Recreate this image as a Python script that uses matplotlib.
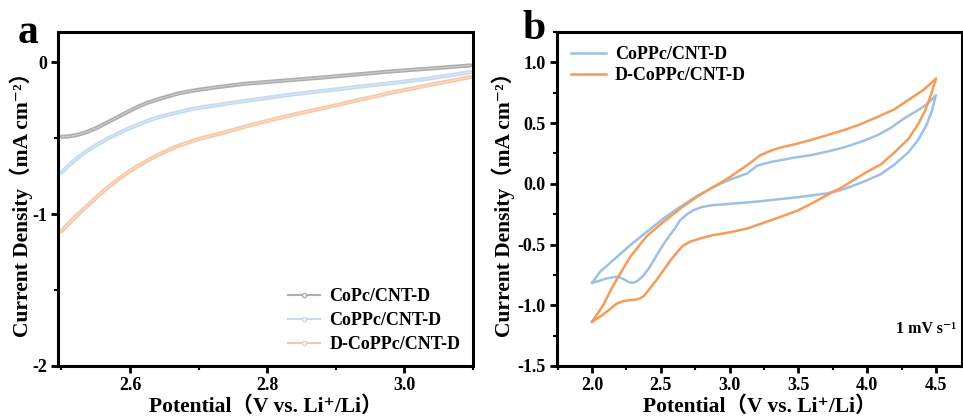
import matplotlib
matplotlib.use("Agg")
import matplotlib.pyplot as plt
from matplotlib.lines import Line2D
from matplotlib.ticker import MultipleLocator

plt.rcParams['font.family'] = ['Liberation Serif', 'DejaVu Serif', 'Noto Sans CJK SC']
plt.rcParams['font.weight'] = 'bold'
plt.rcParams['axes.unicode_minus'] = False

# (a) LSV curves
lsv_x = [2.500, 2.510, 2.524, 2.539, 2.553, 2.568, 2.583, 2.597, 2.612, 2.626, 2.641, 2.656, 2.670,
         2.685, 2.699, 2.719, 2.738, 2.767, 2.797, 2.838, 2.887, 2.936, 2.984, 3.033, 3.096]
copc = [-0.490, -0.488, -0.477, -0.455, -0.428, -0.393, -0.358, -0.325, -0.291, -0.265, -0.243, -0.223,
        -0.205, -0.192, -0.181, -0.168, -0.157, -0.141, -0.130, -0.115, -0.097, -0.077, -0.058, -0.042, -0.020]
coppc = [-0.726, -0.682, -0.627, -0.578, -0.539, -0.501, -0.468, -0.437, -0.411, -0.384, -0.362, -0.344,
         -0.329, -0.313, -0.300, -0.287, -0.274, -0.254, -0.236, -0.210, -0.185, -0.159, -0.135, -0.108, -0.064]
dcoppc = [-1.113, -1.064, -1.002, -0.940, -0.881, -0.823, -0.770, -0.724, -0.682, -0.645, -0.609, -0.578,
          -0.550, -0.528, -0.505, -0.483, -0.461, -0.424, -0.389, -0.344, -0.296, -0.245, -0.197, -0.152, -0.097]
lsv_names = ['CoPc/CNT-D', 'CoPPc/CNT-D', 'D-CoPPc/CNT-D']

# (b) CV loops: anodic branch 2.0 -> 4.5, then cathodic branch back to 2.0
cv_blue_x = [2.0, 2.058, 2.155, 2.277, 2.398, 2.519, 2.641, 2.762, 2.883, 3.005, 3.127, 3.2, 3.3, 3.369,
             3.467, 3.588, 3.709, 3.83, 3.952, 4.074, 4.17, 4.268, 4.389, 4.45, 4.5,
             4.47, 4.43, 4.37, 4.3, 4.2, 4.1, 4.0, 3.9, 3.8, 3.7, 3.6, 3.5, 3.37, 3.25, 3.13, 3.0,
             2.88, 2.8, 2.74, 2.69, 2.64, 2.6, 2.54, 2.49, 2.45, 2.41, 2.37, 2.33, 2.30, 2.27, 2.25,
             2.22, 2.19, 2.15, 2.1, 2.05, 2.0]
cv_blue_y = [-0.815, -0.724, -0.628, -0.505, -0.395, -0.285, -0.189, -0.101, -0.025, 0.036, 0.085, 0.15,
             0.18, 0.195, 0.215, 0.236, 0.265, 0.30, 0.345, 0.40, 0.46, 0.538, 0.62, 0.67, 0.73,
             0.60, 0.48, 0.36, 0.26, 0.16, 0.08, 0.03, -0.015, -0.055, -0.08, -0.095, -0.11, -0.125,
             -0.14, -0.153, -0.165, -0.175, -0.19, -0.216, -0.25, -0.30, -0.37, -0.463, -0.55, -0.628,
             -0.70, -0.76, -0.80, -0.815, -0.81, -0.798, -0.78, -0.765, -0.77, -0.78, -0.80, -0.815]
cv_orange_x = [2.0, 2.08, 2.155, 2.277, 2.398, 2.519, 2.641, 2.762, 2.883, 3.005, 3.127, 3.175, 3.224,
               3.297, 3.369, 3.467, 3.588, 3.709, 3.83, 3.952, 4.074, 4.195, 4.316, 4.413, 4.5,
               4.46, 4.42, 4.37, 4.3, 4.2, 4.1, 4.0, 3.9, 3.8, 3.75, 3.6, 3.5, 3.37, 3.25, 3.13, 3.0,
               2.88, 2.80, 2.71, 2.66, 2.62, 2.57, 2.52, 2.47, 2.42, 2.38, 2.35, 2.31, 2.28, 2.23, 2.18,
               2.107, 2.05, 2.0]
cv_orange_y = [-1.136, -1.0, -0.834, -0.601, -0.430, -0.313, -0.203, -0.107, -0.025, 0.058, 0.154, 0.195,
               0.236, 0.272, 0.299, 0.324, 0.360, 0.401, 0.442, 0.491, 0.551, 0.612, 0.703, 0.777, 0.867,
               0.72, 0.60, 0.49, 0.37, 0.26, 0.16, 0.10, 0.03, -0.04, -0.066, -0.16, -0.217, -0.272,
               -0.32, -0.367, -0.40, -0.422, -0.445, -0.477, -0.51, -0.56, -0.63, -0.71, -0.79, -0.861,
               -0.92, -0.943, -0.955, -0.957, -0.965, -0.985, -1.053, -1.10, -1.136]
cv_names = ['CoPPc/CNT-D', 'D-CoPPc/CNT-D']

fig = plt.figure(figsize=(9.63, 4.19), dpi=100)
ax1 = fig.add_axes([0.0602, 0.1265, 0.431, 0.797])
ax2 = fig.add_axes([0.5784, 0.1265, 0.4206, 0.797])

ylab = 'Current Density\uff08mA cm\u207b\u00b2\uff09'
xlab = 'Potential\uff08V vs. Li\u207a/Li\uff09'

# panel a
lsv_cols = ['#aeaeae', '#c3daf1', '#f7c8a6']
handles = []
for y, c, n in zip([copc, coppc, dcoppc], lsv_cols, lsv_names):
    ax1.plot(lsv_x, y, color=c, lw=3.0, solid_capstyle='round', solid_joinstyle='round')
    ax1.plot(lsv_x, y, color='white', lw=0.8, alpha=0.35)
    handles.append(Line2D([], [], color=c, lw=1.5, marker='o', ms=3, mfc='white', mec=c, label=n))
ax1.set_xlim(2.495, 3.10)
ax1.set_ylim(-2, 0.2)
ax1.xaxis.set_minor_locator(MultipleLocator(0.1))
ax1.yaxis.set_minor_locator(MultipleLocator(0.5))
ax1.set_xticks([2.6, 2.8, 3.0])
ax1.set_xticklabels(['2.6', '2.8', '3.0'])
ax1.set_yticks([0, -1, -2])
ax1.set_yticklabels(['0', '-1', '-2'])
ax1.legend(handles=handles, loc='lower right', frameon=False, fontsize=13,
           handlelength=1.8, handletextpad=0.5, labelspacing=0.4, borderaxespad=0.3)
ax1.yaxis.set_label_coords(-0.06, 0.5)

# panel b
cv_cols = ['#9ec0e4', '#f79b58']
for x, y, c, n in zip([cv_blue_x, cv_orange_x], [cv_blue_y, cv_orange_y], cv_cols, cv_names):
    ax2.plot(x, y, color=c, lw=1.8, label=n, solid_joinstyle='round')
ax2.set_xlim(1.745, 4.69)
ax2.set_ylim(-1.5, 1.25)
ax2.set_xticks([2.0, 2.5, 3.0, 3.5, 4.0, 4.5])
ax2.xaxis.set_minor_locator(MultipleLocator(0.25))
ax2.yaxis.set_minor_locator(MultipleLocator(0.25))
ax2.set_yticks([1.0, 0.5, 0.0, -0.5, -1.0, -1.5])
ax2.set_yticklabels(['1.0', '0.5', '0.0', '-0.5', '-1.0', '-1.5'])
ax2.legend(loc='upper left', frameon=False, fontsize=13, handlelength=1.9,
           handletextpad=0.5, labelspacing=0.2, borderaxespad=0.4)
ax2.text(0.985, 0.11, '1 mV s\u207b\u00b9', transform=ax2.transAxes, ha='right', va='center',
         fontsize=11.5, fontweight='bold')
ax2.yaxis.set_label_coords(-0.104, 0.5)

for ax in (ax1, ax2):
    for s in ax.spines.values():
        s.set_linewidth(2.2)
    ax.tick_params(which='major', direction='out', length=5, width=2, labelsize=13, pad=3,
                   top=False, right=False)
    ax.tick_params(which='minor', direction='out', length=3, width=1.5, top=False, right=False)
    for lab in ax.get_xticklabels() + ax.get_yticklabels():
        lab.set_fontweight('bold')
    ax.set_xlabel(xlab, fontsize=15.5, fontweight='bold')
    ax.set_ylabel(ylab, fontsize=15.5, fontweight='bold')
    ax.xaxis.set_label_coords(0.5, -0.09)

fig.text(0.029, 0.922, 'a', fontsize=30, fontweight='bold', ha='center', va='center')
fig.text(0.555, 0.93, 'b', fontsize=30, fontweight='bold', ha='center', va='center')

fig.savefig('out.png', dpi=100)
